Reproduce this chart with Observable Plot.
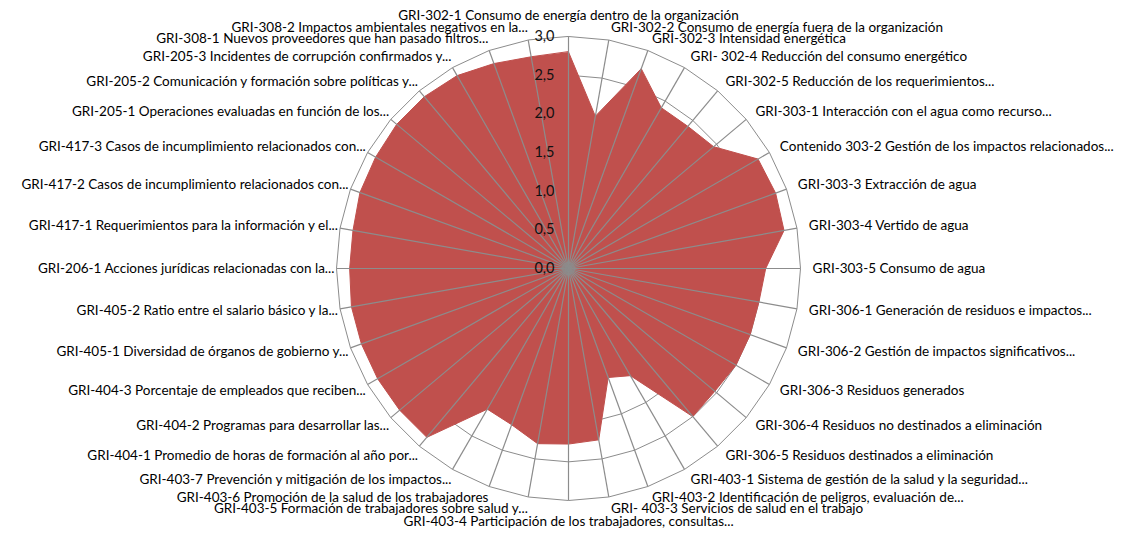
<!DOCTYPE html>
<html><head><meta charset="utf-8">
<script src="https://cdn.jsdelivr.net/npm/d3@7"></script>
<script src="https://cdn.jsdelivr.net/npm/@observablehq/plot@0.6"></script>
<style>html,body{margin:0;padding:0;background:#fff;} #chart svg{display:block}</style>
</head><body><div id="chart"></div>
<script>
const categories = [
  "GRI-302-1 Consumo de energía dentro de la organización",
  "GRI-302-2 Consumo de energía fuera de la organización",
  "GRI-302-3 Intensidad energética",
  "GRI- 302-4 Reducción del consumo energético",
  "GRI-302-5 Reducción de los requerimientos...",
  "GRI-303-1 Interacción con el agua como recurso...",
  "Contenido 303-2 Gestión de los impactos relacionados...",
  "GRI-303-3 Extracción de agua",
  "GRI-303-4 Vertido de agua",
  "GRI-303-5 Consumo de agua",
  "GRI-306-1 Generación de residuos e impactos...",
  "GRI-306-2 Gestión de impactos significativos...",
  "GRI-306-3 Residuos generados",
  "GRI-306-4 Residuos no destinados a eliminación",
  "GRI-306-5 Residuos destinados a eliminación",
  "GRI-403-1 Sistema de gestión de la salud y la seguridad...",
  "GRI-403-2 Identificación de peligros, evaluación de...",
  "GRI- 403-3 Servicios de salud en el trabajo",
  "GRI-403-4 Participación de los trabajadores, consultas...",
  "GRI-403-5 Formación de trabajadores sobre salud y...",
  "GRI-403-6 Promoción de la salud de los trabajadores",
  "GRI-403-7 Prevención y mitigación de los impactos...",
  "GRI-404-1 Promedio de horas de formación al año por...",
  "GRI-404-2 Programas para desarrollar las...",
  "GRI-404-3 Porcentaje de empleados que reciben...",
  "GRI-405-1 Diversidad de órganos de gobierno y...",
  "GRI-405-2 Ratio entre el salario básico y la...",
  "GRI-206-1 Acciones jurídicas relacionadas con la...",
  "GRI-417-1 Requerimientos para la información y el...",
  "GRI-417-2 Casos de incumplimiento relacionados con...",
  "GRI-417-3 Casos de incumplimiento relacionados con...",
  "GRI-205-1 Operaciones evaluadas en función de los...",
  "GRI-205-2 Comunicación y formación sobre políticas y...",
  "GRI-205-3 Incidentes de corrupción confirmados y...",
  "GRI-308-1 Nuevos proveedores que han pasado filtros...",
  "GRI-308-2 Impactos ambientales negativos en la..."
];
const values = [
  2.8, 2.0, 2.75, 2.4, 2.4, 2.45, 2.83, 2.85, 2.83, 2.55,
  2.5, 2.5, 2.5, 2.47, 2.5, 1.6, 1.5, 2.25, 2.27, 2.3,
  2.15, 2.1, 2.85, 2.85, 2.85, 2.85, 2.85, 2.83, 2.83, 2.87,
  2.88, 2.9, 2.9, 2.88, 2.82, 2.78
];
const ticks = [0, 0.5, 1, 1.5, 2, 2.5, 3];
const tickLabels = ["0,0", "0,5", "1,0", "1,5", "2,0", "2,5", "3,0"];

const n = categories.length;
const maxV = 3;
const ang = i => i * 2 * Math.PI / n;
const rows = categories.map((c, i) => ({c, i, v: values[i], a: ang(i)}));
const tickRows = ticks.map((t, i) => ({t, label: tickLabels[i]}));
const rings = ticks.slice(1).flatMap(t => categories.map((c, i) => ({t, a: ang(i)})));

const eps = 1e-6;
const rightRows = rows.filter(d => d.a > eps && d.a < Math.PI - eps);
const leftRows = rows.filter(d => d.a > Math.PI + eps);
const topRows = rows.filter(d => d.a <= eps);
const bottomRows = rows.filter(d => Math.abs(d.a - Math.PI) <= eps);

const labelR = maxV * 1.052;   // radius for label anchor (right side & y)
const labelRL = maxV * 1.009;  // radius for left-side label end
const labelRV = maxV * 1.09;   // top / bottom labels

const font = "Lato, 'Open Sans', sans-serif";
const gridColor = "#8c8c8c";
const labelSize = 13.5;

const chart = Plot.plot({
  width: 1131,
  height: 534,
  marginLeft: 336,
  marginRight: 331,
  marginTop: 36,
  marginBottom: 34,
  x: {domain: [-maxV, maxV], axis: null},
  y: {domain: [-maxV, maxV], axis: null},
  style: {fontFamily: font, background: "#fff", color: "#000"},
  marks: [
    Plot.line(rings, {
      x: d => d.t * Math.sin(d.a), y: d => d.t * Math.cos(d.a), z: "t",
      curve: "linear-closed", stroke: gridColor, strokeWidth: 1
    }),
    Plot.line(rows, {
      x: d => d.v * Math.sin(d.a), y: d => d.v * Math.cos(d.a),
      curve: "linear-closed", fill: "#C0504D", stroke: "#C0504D", strokeWidth: 1
    }),
    Plot.link(rows, {
      x1: () => 0, y1: () => 0,
      x2: d => maxV * Math.sin(d.a), y2: d => maxV * Math.cos(d.a),
      stroke: gridColor, strokeWidth: 1.2
    }),
    Plot.text(tickRows, {
      x: () => 0, y: "t", text: "label", textAnchor: "end", dx: -14,
      fontSize: 14.5, fill: "#111"
    }),
    Plot.text(rightRows, {
      x: d => labelR * Math.sin(d.a), y: d => labelR * Math.cos(d.a),
      text: "c", textAnchor: "start", fontSize: labelSize, fill: "#000"
    }),
    Plot.text(leftRows, {
      x: d => labelRL * Math.sin(d.a), y: d => labelR * Math.cos(d.a),
      text: "c", textAnchor: "end", fontSize: labelSize, fill: "#000"
    }),
    Plot.text(topRows, {
      x: d => labelRV * Math.sin(d.a), y: d => labelRV * Math.cos(d.a),
      text: "c", textAnchor: "middle", fontSize: labelSize, fill: "#000"
    }),
    Plot.text(bottomRows, {
      x: d => labelRV * Math.sin(d.a), y: d => labelRV * Math.cos(d.a),
      text: "c", textAnchor: "middle", fontSize: labelSize, fill: "#000"
    })
  ]
});
document.getElementById("chart").appendChild(chart);
</script>
</body></html>
